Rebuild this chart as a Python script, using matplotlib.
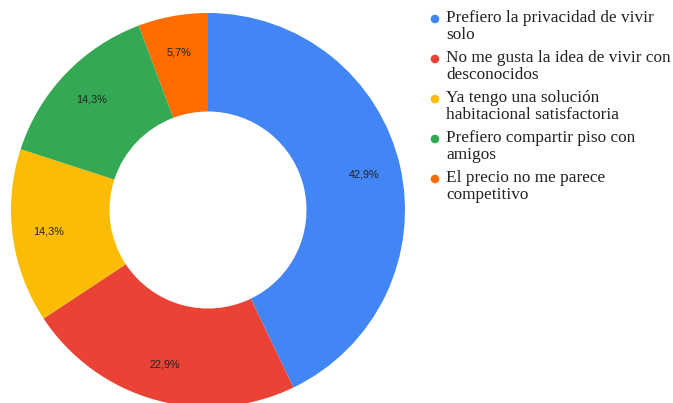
import matplotlib.pyplot as plt

# motivos para no compartir piso (respuestas de la encuesta)
labels = [
    "Prefiero la privacidad de vivir\nsolo",
    "No me gusta la idea de vivir con\ndesconocidos",
    "Ya tengo una solución\nhabitacional satisfactoria",
    "Prefiero compartir piso con\namigos",
    "El precio no me parece\ncompetitivo",
]
counts = [15, 8, 5, 5, 2]
colors = ["#4285F4", "#EA4335", "#FBBC04", "#34A853", "#FF6D01"]

W, H = 673, 403
fig = plt.figure(figsize=(W / 100, H / 100), dpi=100)

# donut: centre at (208, 210) px, outer radius ~197 px
ax = fig.add_axes([8 / W, (H - 210 - 200) / H, 400 / W, 400 / H])
wedges, texts, autotexts = ax.pie(
    counts, colors=colors, startangle=90, counterclock=False,
    radius=0.985, pctdistance=0.815,
    autopct=lambda p: f"{p:.1f}%".replace(".", ","),
    wedgeprops=dict(width=0.985 * 0.5, linewidth=0),
    textprops=dict(fontsize=7.8, color="#222222", family="Liberation Sans"),
)
ax.set_xlim(-1, 1)
ax.set_ylim(-1, 1)
ax.set_aspect("equal")
ax.axis("off")

# legend drawn by hand so the dot sits on the first line
x_dot, x_txt = 435 / W, 446 / W
for i, (lab, col) in enumerate(zip(labels, colors)):
    y_first = 19 + 40 * i
    fig.patches.append(plt.Circle((x_dot * W, H - y_first), 3.6,
                                  transform=None, color=col, figure=fig))
    fig.text(x_txt, 1 - (y_first - 9) / H, lab, ha="left", va="top",
             fontsize=12.4, family="Liberation Serif", color="#222222",
             linespacing=1.07)

fig.savefig("out.png", dpi=100)
